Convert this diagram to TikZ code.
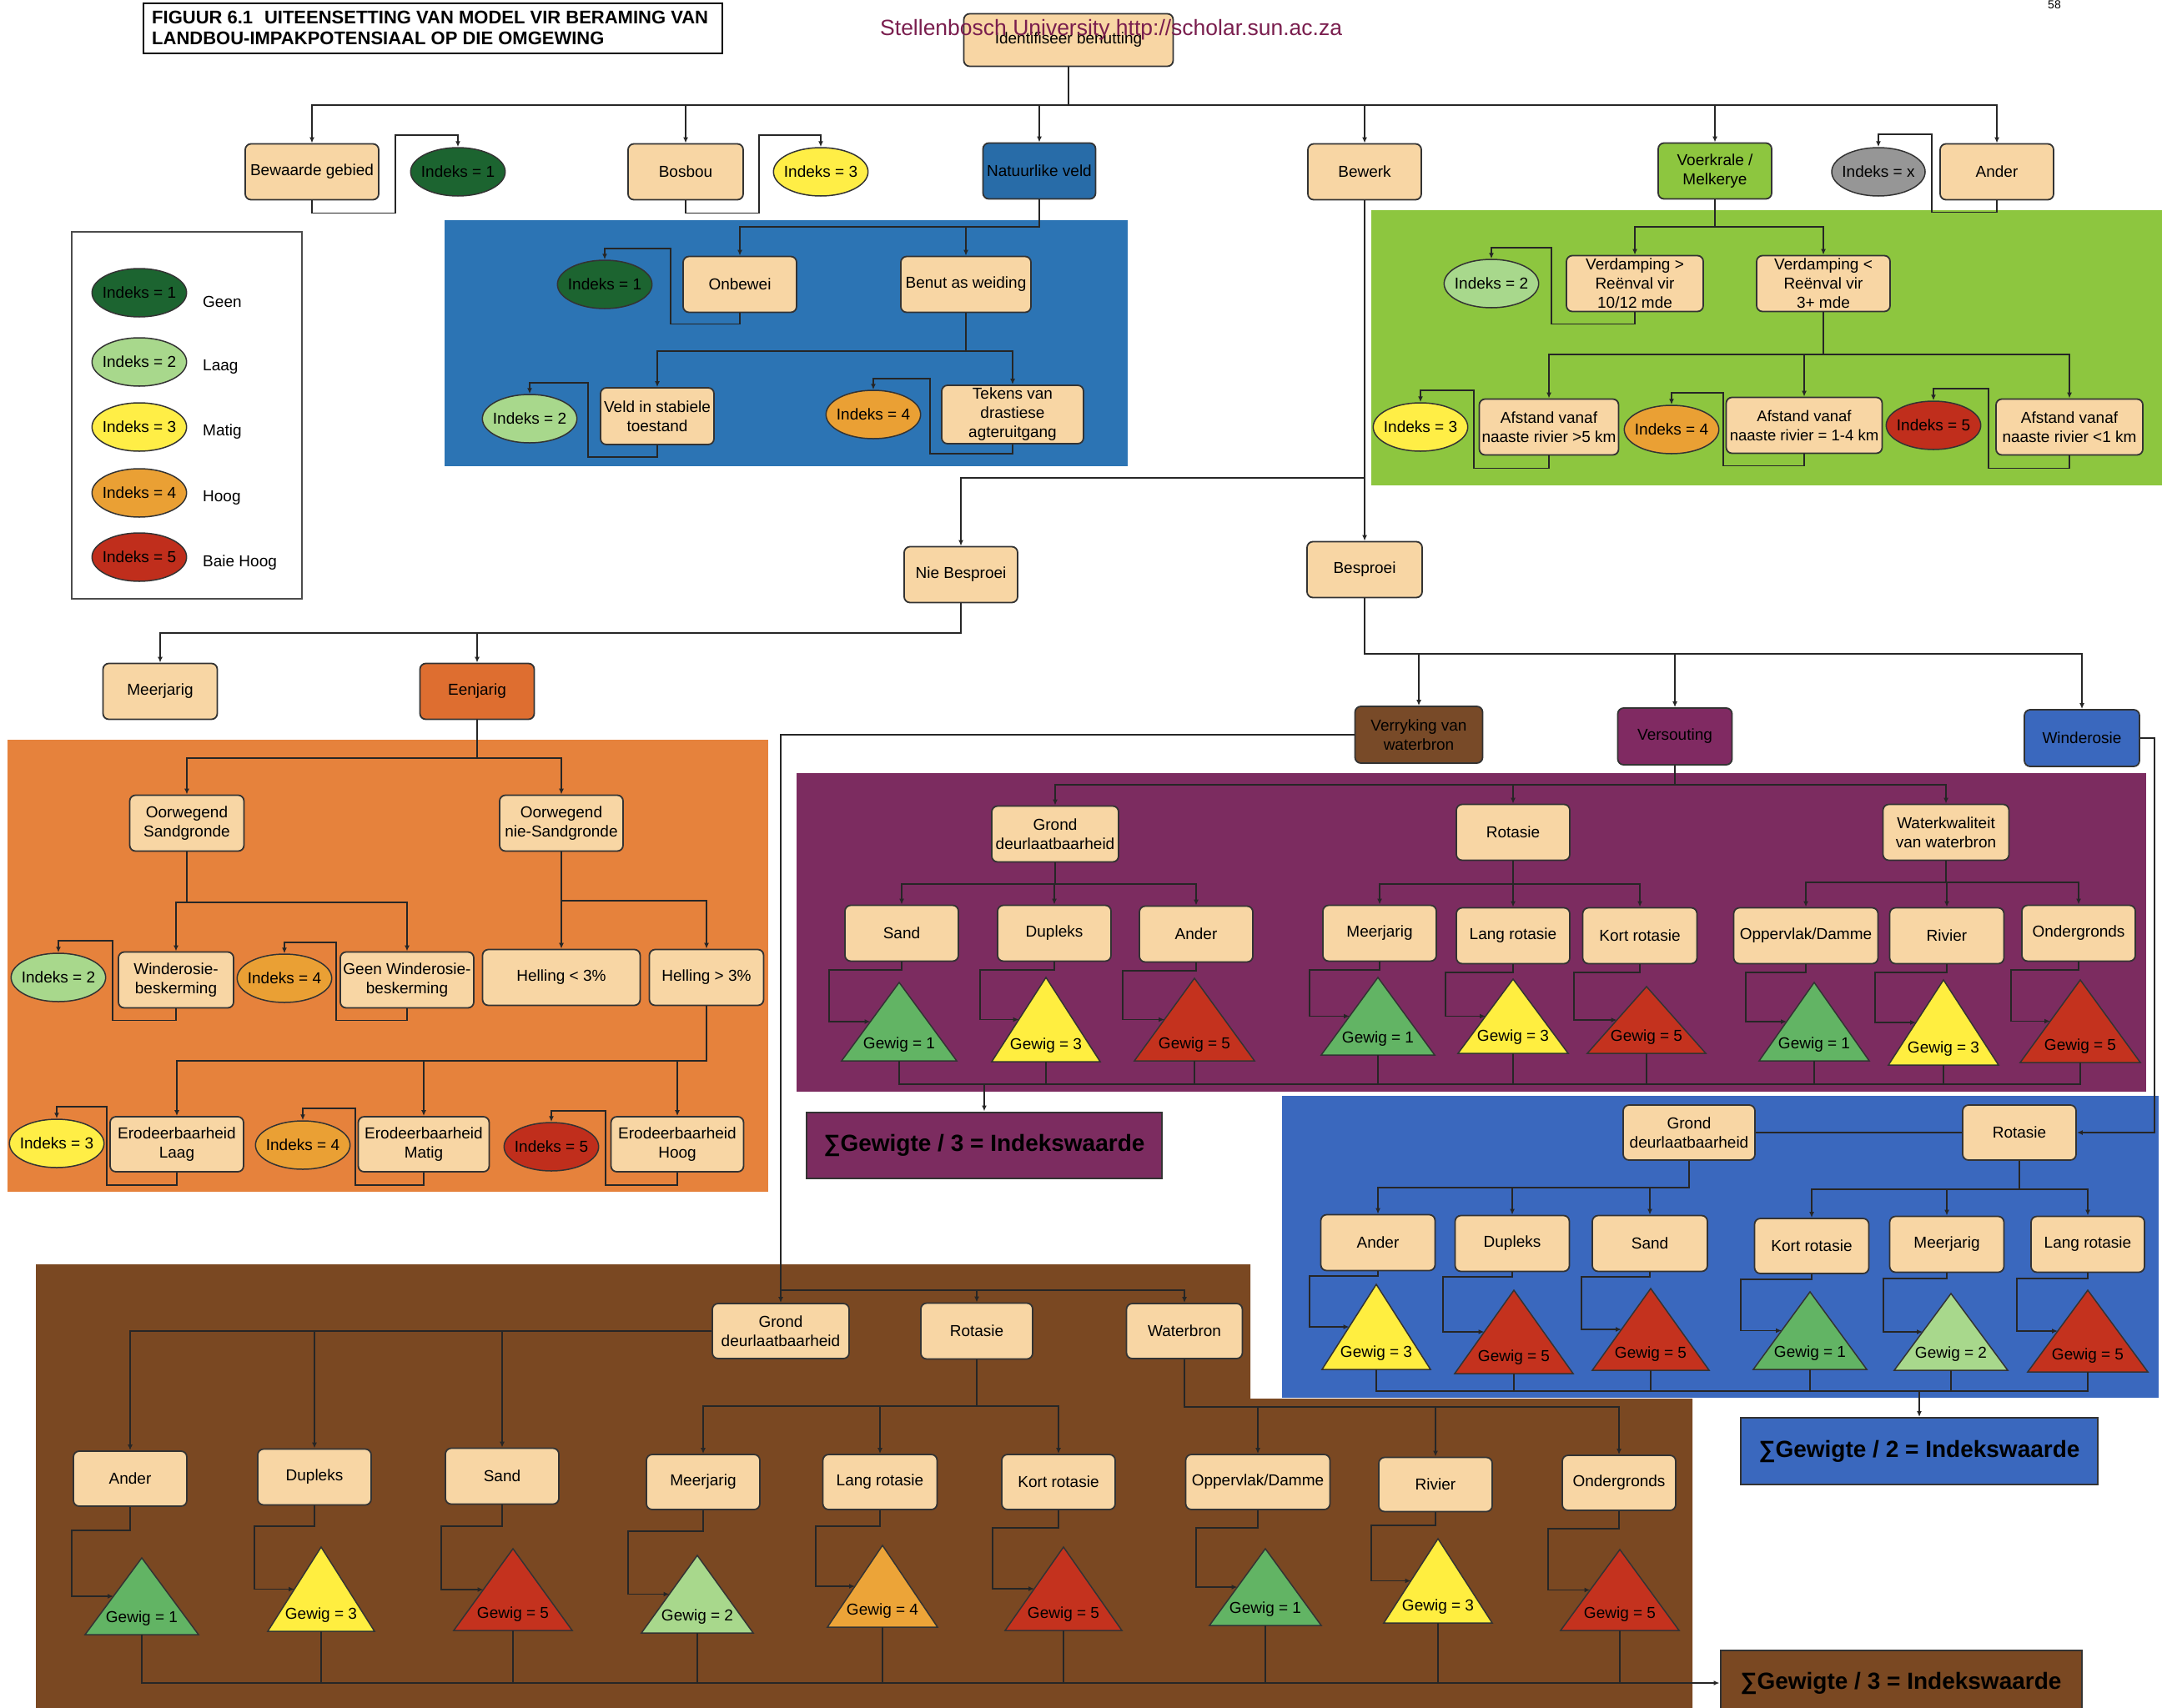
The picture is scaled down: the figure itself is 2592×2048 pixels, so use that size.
\documentclass[tikz,border=0pt]{standalone}
\usepackage{fontspec}
\setmainfont{Liberation Sans}
\usetikzlibrary{shapes.geometric,arrows.meta}
\definecolor{beige}{RGB}{248,214,164}
\definecolor{i1}{RGB}{28,100,48}
\definecolor{i2}{RGB}{168,216,140}
\definecolor{i3}{RGB}{255,238,70}
\definecolor{i4}{RGB}{234,160,52}
\definecolor{i5}{RGB}{192,46,28}
\definecolor{ix}{RGB}{150,150,150}
\definecolor{g1}{RGB}{98,180,100}
\definecolor{g2}{RGB}{168,216,140}
\definecolor{g3}{RGB}{255,238,64}
\definecolor{g4}{RGB}{236,164,56}
\definecolor{g5}{RGB}{196,50,30}
\definecolor{blueA}{RGB}{44,116,180}
\definecolor{natblue}{RGB}{40,108,168}
\definecolor{greenA}{RGB}{141,198,63}
\definecolor{orangeA}{RGB}{230,130,60}
\definecolor{eenorange}{RGB}{222,110,48}
\definecolor{purpleA}{RGB}{124,44,96}
\definecolor{purplebox}{RGB}{128,42,98}
\definecolor{blueB}{RGB}{58,104,190}
\definecolor{brownA}{RGB}{122,72,34}
\definecolor{brownbox}{RGB}{120,74,40}
\definecolor{wmcol}{RGB}{122,30,78}
\newcommand{\myfs}{\fontsize{19}{23}\selectfont}
\tikzset{
  bx/.style={draw=black!80, line width=1.8pt, rounded corners=7pt, fill=beige, align=center, inner sep=1pt, minimum height=67pt, font=\myfs},
  el/.style={ellipse, draw=black!80, line width=1.5pt, minimum width=112pt, minimum height=58pt, inner xsep=-4pt, inner ysep=0pt, font=\myfs},
  gw/.style={inner sep=1pt, font=\myfs},
  arr/.style={draw=black!85, line width=1.4pt, -{Latex[length=7pt,width=6pt]}},
  ln/.style={draw=black!85, line width=1.4pt},
  sumbox/.style={draw=black!80, line width=2pt, inner sep=0pt, font=\bfseries\fontsize{28}{32}\selectfont},
  lt/.style={anchor=west, inner sep=0pt, font=\myfs}
}
\newcommand{\bxn}[6][]{\node[bx,minimum width=#5pt,#1] (#2) at (#3,#4) {#6};}
\newcommand{\eln}[5]{\node[el,fill=#4] (#1) at (#2,#3) {#5};}
\newcommand{\gtri}[7]{%
  \filldraw[fill=#6,draw=black!80,line width=1.5pt] (#2,#3) -- ({#2+#5},#4) -- ({#2-#5},#4) -- cycle;
  \node[gw] (#1) at (#2,{#4-19}) {#7};
  \coordinate (#1l) at ({#2-0.5*#5},{(#3+#4)/2});
  \coordinate (#1b) at (#2,#4);}
\newcommand{\tre}[3]{\draw[arr] (#1.south) -- (#1.south |- 0,#2) -| (#3.north);}
\newcommand{\icn}[5]{\draw[arr] (#1.south) -- ++(0,#5) -| (#3,#4) -| (#2.north);}
\newcommand{\tcn}[4]{\draw[arr] (#1.south) -- (#1.south |- 0,#4) -| (#3,0 |- #2l) -- (#2l);}
\begin{document}
\begin{tikzpicture}[x=1pt,y=-1pt]
\useasboundingbox (0,0) rectangle (2592,2048);
\clip (0,0) rectangle (2592,2048);
% ---------------- panels
\fill[blueA] (533,264) rectangle (1352,559);
\fill[greenA] (1644,252) rectangle (2592,582);
\fill[orangeA] (9,887) rectangle (921,1429);
\fill[purpleA] (955,927) rectangle (2573,1309);
\fill[blueB] (1537,1314) rectangle (2588,1676);
\fill[brownA] (43,1516) -- (1499,1516) -- (1499,1677) -- (2029,1677) -- (2029,2048) -- (43,2048) -- cycle;
% ---------------- title and legend
\draw[line width=1.5pt] (172,4) rectangle (866,64);
\node[anchor=north west, align=left, inner sep=0pt, font=\bfseries\fontsize{22}{25}\selectfont] (title) at (182,13) {FIGUUR 6.1\hspace{0.35em} UITEENSETTING VAN MODEL VIR BERAMING VAN\\LANDBOU-IMPAKPOTENSIAAL OP DIE OMGEWING};
\node[font=\fontsize{14}{16}\selectfont, inner sep=0pt] (pg) at (2463,6) {58};
\draw[black!70, line width=1.5pt] (86,278) rectangle (362,718);
\eln{lg1}{167}{351}{i1}{Indeks = 1}
\eln{lg2}{167}{434}{i2}{Indeks = 2}
\eln{lg3}{167}{512}{i3}{Indeks = 3}
\eln{lg4}{167}{591}{i4}{Indeks = 4}
\eln{lg5}{167}{668}{i5}{Indeks = 5}
\node[lt] (lt1) at (243,362) {Geen};
\node[lt] (lt2) at (243,440) {Laag};
\node[lt] (lt3) at (243,518) {Matig};
\node[lt] (lt4) at (243,597) {Hoog};
\node[lt] (lt5) at (243,675) {Baie Hoog};
% ---------------- top level
\node[bx, minimum width=251pt, minimum height=63pt] (ident) at (1281,48) {Identifiseer benutting};
\bxn{bewaarde}{374}{206}{160}{Bewaarde gebied}
\eln{ia1}{549}{206}{i1}{Indeks = 1}
\bxn{bosbou}{822}{206}{138}{Bosbou}
\eln{ia3}{984}{206}{i3}{Indeks = 3}
\bxn[fill=natblue]{natuur}{1246}{205}{135}{Natuurlike veld}
\bxn{bewerk}{1636}{206}{136}{Bewerk}
\bxn[fill=greenA]{voer}{2056}{205}{136}{Voerkrale /\\Melkerye}
\eln{iax}{2252}{206}{ix}{Indeks = x}
\bxn{ander0}{2394}{206}{136}{Ander}
% ---------------- natuurlike veld
\eln{ib1}{725}{341}{i1}{Indeks = 1}
\bxn{onbewei}{887}{341}{136}{Onbewei}
\bxn{benut}{1158}{341}{156}{Benut as weiding}
\eln{ib2}{635}{502}{i2}{Indeks = 2}
\bxn[minimum height=68pt]{veld}{788}{499}{136}{Veld in stabiele\\toestand}
\eln{ib4}{1047}{497}{i4}{Indeks = 4}
\bxn[minimum height=70pt]{tekens}{1214}{497}{170}{Tekens van\\drastiese\\agteruitgang}
% ---------------- voerkrale
\eln{ic2}{1788}{340}{i2}{Indeks = 2}
\bxn{verd1}{1960}{340}{164}{Verdamping >\\Reënval vir\\10/12 mde}
\bxn{verd2}{2186}{340}{160}{Verdamping <\\Reënval vir\\3+ mde}
\eln{ic3}{1703}{512}{i3}{Indeks = 3}
\bxn{afst1}{1857}{512}{167}{Afstand vanaf\\naaste rivier >5 km}
\eln{ic4}{2004}{515}{i4}{Indeks = 4}
\bxn[font=\fontsize{18.5}{23}\selectfont]{afst2}{2163}{510}{187}{Afstand vanaf\\naaste rivier = 1-4 km}
\eln{ic5}{2318}{510}{i5}{Indeks = 5}
\bxn{afst3}{2481}{512}{176}{Afstand vanaf\\naaste rivier <1 km}
% ---------------- bewerk
\bxn{niebes}{1152}{689}{136}{Nie Besproei}
\bxn{besproei}{1636}{683}{138}{Besproei}
\bxn{meer0}{192}{829}{137}{Meerjarig}
\bxn[fill=eenorange]{eenjarig}{572}{829}{137}{Eenjarig}
% ---------------- eenjarig panel
\bxn{sandgr}{224}{987}{137}{Oorwegend\\Sandgronde}
\bxn{niesand}{673}{987}{148}{Oorwegend\\nie-Sandgronde}
\eln{id2}{70}{1172}{i2}{Indeks = 2}
\bxn{windb}{211}{1175}{138}{Winderosie-\\beskerming}
\eln{id4}{341}{1173}{i4}{Indeks = 4}
\bxn{geenw}{488}{1175}{160}{Geen Winderosie-\\beskerming}
\bxn{hel1}{673}{1172}{189}{Helling < 3\%}
\bxn{hel2}{847}{1172}{137}{Helling > 3\%}
\eln{ie3}{68}{1371}{i3}{Indeks = 3}
\bxn[minimum height=66pt]{erod1}{212}{1372}{160}{Erodeerbaarheid\\Laag}
\eln{ie4}{363}{1373}{i4}{Indeks = 4}
\bxn[minimum height=66pt]{erod2}{508}{1372}{157}{Erodeerbaarheid\\Matig}
\eln{ie5}{661}{1375}{i5}{Indeks = 5}
\bxn[minimum height=66pt]{erod3}{812}{1372}{159}{Erodeerbaarheid\\Hoog}
% ---------------- besproei
\bxn[fill=brownbox,minimum height=68pt]{verryking}{1701}{881}{153}{Verryking van\\waterbron}
\bxn[fill=purplebox,minimum height=68pt]{versouting}{2008}{883}{137}{Versouting}
\bxn[fill=blueB,minimum height=68pt]{winderosie}{2496}{885}{138}{Winderosie}
% ---------------- versouting panel
\bxn{grondp}{1265}{1000}{152}{Grond\\deurlaatbaarheid}
\bxn{rotp}{1814}{998}{136}{Rotasie}
\bxn{waterkw}{2333}{998}{151}{Waterkwaliteit\\van waterbron}
\bxn{sandp}{1081}{1119}{136}{Sand}
\bxn{duplp}{1264}{1119}{136}{Dupleks}
\bxn{anderp}{1434}{1120}{136}{Ander}
\bxn{meerp}{1654}{1119}{136}{Meerjarig}
\bxn{langp}{1814}{1122}{136}{Lang rotasie}
\bxn{kortp}{1966}{1122}{137}{Kort rotasie}
\bxn{oppp}{2165}{1122}{173}{Oppervlak/Damme}
\bxn{rivp}{2334}{1122}{137}{Rivier}
\bxn{ondp}{2492}{1119}{136}{Ondergronds}
\gtri{tps}{1078}{1178}{1272}{69}{g1}{Gewig = 1}
\gtri{tpd}{1254}{1172}{1273}{65}{g3}{Gewig = 3}
\gtri{tpa}{1432}{1173}{1272}{72}{g5}{Gewig = 5}
\gtri{tpm}{1652}{1172}{1265}{68}{g1}{Gewig = 1}
\gtri{tpl}{1814}{1174}{1263}{66}{g3}{Gewig = 3}
\gtri{tpk}{1974}{1183}{1263}{71}{g5}{Gewig = 5}
\gtri{tpo}{2175}{1178}{1272}{66}{g1}{Gewig = 1}
\gtri{tpr}{2330}{1175}{1277}{66}{g3}{Gewig = 3}
\gtri{tpu}{2494}{1175}{1274}{72}{g5}{Gewig = 5}
\node[sumbox, fill=purpleA, minimum width=426pt, minimum height=79pt] (psum) at (1180,1373) {∑Gewigte / 3 = Indekswaarde};
% ---------------- winderosie panel
\bxn[minimum height=66pt]{grondw}{2025}{1358}{158}{Grond\\deurlaatbaarheid}
\bxn[minimum height=66pt]{rotw}{2421}{1358}{136}{Rotasie}
\bxn{anderw}{1652}{1490}{137}{Ander}
\bxn{duplw}{1813}{1491}{137}{Dupleks}
\bxn{sandw}{1978}{1491}{138}{Sand}
\bxn[minimum height=66pt]{kortw}{2172}{1494}{137}{Kort rotasie}
\bxn{meerw}{2334}{1492}{137}{Meerjarig}
\bxn{langw}{2503}{1492}{136}{Lang rotasie}
\gtri{twa}{1650}{1540}{1642}{65}{g3}{Gewig = 3}
\gtri{twd}{1815}{1547}{1647}{71}{g5}{Gewig = 5}
\gtri{tws}{1979}{1545}{1643}{70}{g5}{Gewig = 5}
\gtri{twk}{2170}{1549}{1642}{68}{g1}{Gewig = 1}
\gtri{twm}{2339}{1551}{1643}{68}{g2}{Gewig = 2}
\gtri{twl}{2503}{1547}{1645}{72}{g5}{Gewig = 5}
\node[sumbox, fill=blueB, minimum width=428pt, minimum height=80pt] (wsum) at (2301,1740) {∑Gewigte / 2 = Indekswaarde};
% ---------------- verryking panel
\bxn[minimum height=66pt]{grondb}{936}{1596}{164}{Grond\\deurlaatbaarheid}
\bxn{rotb}{1171}{1596}{134}{Rotasie}
\bxn[minimum height=66pt]{waterb}{1420}{1596}{139}{Waterbron}
\bxn[minimum height=66pt]{anderb}{156}{1773}{136}{Ander}
\bxn{duplb}{377}{1771}{136}{Dupleks}
\bxn{sandb}{602}{1770}{136}{Sand}
\bxn[minimum height=66pt]{meerb}{843}{1777}{136}{Meerjarig}
\bxn[minimum height=66pt]{langb}{1055}{1777}{137}{Lang rotasie}
\bxn[minimum height=66pt]{kortb}{1269}{1777}{136}{Kort rotasie}
\bxn[minimum height=66pt]{oppb}{1508}{1777}{173}{Oppervlak/Damme}
\bxn[minimum height=65pt]{rivb}{1721}{1780}{136}{Rivier}
\bxn[minimum height=66pt]{ondb}{1941}{1778}{136}{Ondergronds}
\gtri{tba}{170}{1868}{1960}{68}{g1}{Gewig = 1}
\gtri{tbd}{385}{1855}{1956}{64}{g3}{Gewig = 3}
\gtri{tbs}{615}{1857}{1955}{71}{g5}{Gewig = 5}
\gtri{tbm}{836}{1865}{1958}{67}{g2}{Gewig = 2}
\gtri{tbl}{1058}{1853}{1951}{66}{g4}{Gewig = 4}
\gtri{tbk}{1275}{1855}{1955}{70}{g5}{Gewig = 5}
\gtri{tbo}{1517}{1857}{1949}{67}{g1}{Gewig = 1}
\gtri{tbr}{1724}{1845}{1946}{65}{g3}{Gewig = 3}
\gtri{tbu}{1942}{1858}{1955}{71}{g5}{Gewig = 5}
\node[sumbox, fill=brownA, minimum width=433pt, minimum height=78pt] (bsum) at (2279,2018) {∑Gewigte / 3 = Indekswaarde};
% ================= connectors
\foreach \c in {bewaarde,bosbou,natuur,bewerk,voer,ander0}{\tre{ident}{126}{\c}}
\icn{bewaarde}{ia1}{474}{162}{15}
\icn{bosbou}{ia3}{910}{162}{15}
\icn{ander0}{iax}{2316}{161}{14}
\tre{natuur}{272}{onbewei}
\tre{natuur}{272}{benut}
\icn{onbewei}{ib1}{804}{298}{13}
\tre{benut}{421}{veld}
\tre{benut}{421}{tekens}
\icn{veld}{ib2}{705}{459}{14}
\icn{tekens}{ib4}{1115}{454}{11}
\tre{voer}{272}{verd1}
\tre{voer}{272}{verd2}
\icn{verd1}{ic2}{1860}{297}{14}
\foreach \c in {afst1,afst2,afst3}{\tre{verd2}{425}{\c}}
\icn{afst1}{ic3}{1767}{468}{15}
\icn{afst2}{ic4}{2066}{471}{14}
\icn{afst3}{ic5}{2384}{466}{15}
\draw[arr] (bewerk.south) -- (besproei.north);
\tre{bewerk}{573}{niebes}
\tre{niebes}{759}{meer0}
\tre{niebes}{759}{eenjarig}
\tre{eenjarig}{909}{sandgr}
\tre{eenjarig}{909}{niesand}
\tre{sandgr}{1082}{windb}
\tre{sandgr}{1082}{geenw}
\tre{niesand}{1080}{hel1}
\tre{niesand}{1080}{hel2}
\icn{windb}{id2}{135}{1128}{14}
\icn{geenw}{id4}{403}{1130}{14}
\foreach \c in {erod1,erod2,erod3}{\tre{hel2}{1272}{\c}}
\icn{erod1}{ie3}{128}{1327}{15}
\icn{erod2}{ie4}{426}{1329}{15}
\icn{erod3}{ie5}{726}{1332}{15}
\foreach \c in {verryking,versouting,winderosie}{\tre{besproei}{784}{\c}}
% versouting
\foreach \c in {grondp,rotp,waterkw}{\tre{versouting}{941}{\c}}
\foreach \c in {sandp,duplp,anderp}{\tre{grondp}{1060}{\c}}
\foreach \c in {meerp,langp,kortp}{\tre{rotp}{1060}{\c}}
\foreach \c in {oppp,rivp,ondp}{\tre{waterkw}{1058}{\c}}
\tcn{sandp}{tps}{994}{1163}
\tcn{duplp}{tpd}{1175}{1163}
\tcn{anderp}{tpa}{1346}{1164}
\tcn{meerp}{tpm}{1570}{1163}
\tcn{langp}{tpl}{1733}{1166}
\tcn{kortp}{tpk}{1887}{1166}
\tcn{oppp}{tpo}{2093}{1166}
\tcn{rivp}{tpr}{2248}{1166}
\tcn{ondp}{tpu}{2411}{1163}
\draw[ln] (tpsb) |- (tpub |- 0,1300) -- (tpub);
\foreach \c in {tpdb,tpab,tpmb,tplb,tpkb,tpob,tprb}{\draw[ln] (\c) -- (\c |- 0,1300);}
\draw[arr] (psum.north |- 0,1300) -- (psum.north);
% winderosie
\draw[arr] (winderosie.east) -- ++(17,0) |- (rotw.east);
\draw[ln] (grondw.east) -- (rotw.west);
\foreach \c in {anderw,duplw,sandw}{\tre{grondw}{1424}{\c}}
\foreach \c in {kortw,meerw,langw}{\tre{rotw}{1426}{\c}}
\tcn{anderw}{twa}{1570}{1530}
\tcn{duplw}{twd}{1730}{1531}
\tcn{sandw}{tws}{1896}{1531}
\tcn{kortw}{twk}{2087}{1534}
\tcn{meerw}{twm}{2258}{1533}
\tcn{langw}{twl}{2418}{1533}
\draw[ln] (twab) |- (twlb |- 0,1668) -- (twlb);
\foreach \c in {twdb,twsb,twkb,twmb}{\draw[ln] (\c) -- (\c |- 0,1668);}
\draw[arr] (wsum.north |- 0,1668) -- (wsum.north);
% verryking
\draw[arr] (verryking.west) -| (grondb.north);
\draw[arr] (grondb.north |- 0,1547) -| (rotb.north);
\draw[arr] (grondb.north |- 0,1547) -| (waterb.north);
\foreach \c in {anderb,duplb,sandb}{\draw[arr] (grondb.west) -| (\c.north);}
\foreach \c in {meerb,langb,kortb}{\tre{rotb}{1686}{\c}}
\foreach \c in {oppb,rivb,ondb}{\tre{waterb}{1687}{\c}}
\tcn{anderb}{tba}{86}{1835}
\tcn{duplb}{tbd}{305}{1830}
\tcn{sandb}{tbs}{529}{1830}
\tcn{meerb}{tbm}{753}{1836}
\tcn{langb}{tbl}{978}{1830}
\tcn{kortb}{tbk}{1190}{1832}
\tcn{oppb}{tbo}{1434}{1832}
\tcn{rivb}{tbr}{1644}{1829}
\tcn{ondb}{tbu}{1856}{1833}
\draw[arr] (tbab) |- (bsum.west);
\foreach \c in {tbdb,tbsb,tbmb,tblb,tbkb,tbob,tbrb,tbub}{\draw[ln] (\c) -- (\c |- bsum.west);}
% watermark
\node[anchor=west, inner sep=0pt, text=wmcol, font=\fontsize{26.5}{28}\selectfont] (wm) at (1055,36) {Stellenbosch University http://scholar.sun.ac.za};
\end{tikzpicture}
\end{document}
